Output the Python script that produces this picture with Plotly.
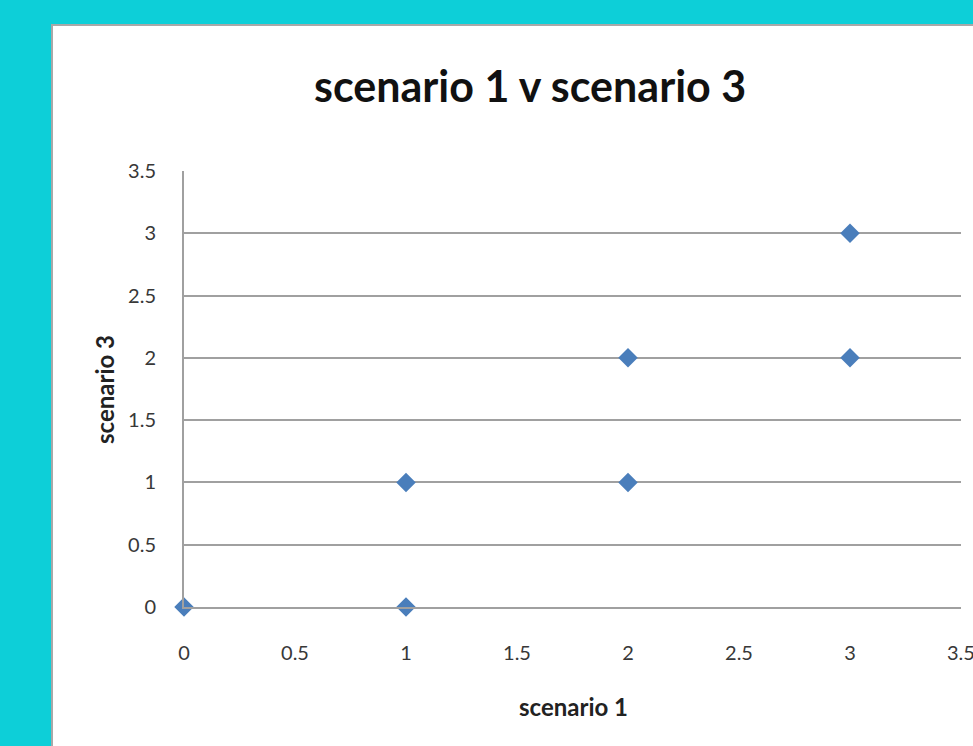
import plotly.graph_objects as go

scenario_1 = [0, 1, 1, 2, 2, 3, 3]
scenario_3 = [0, 0, 1, 1, 2, 2, 3]
x_tick_vals = [0, 0.5, 1, 1.5, 2, 2.5, 3]
x_tick_text = ["0", "0.5", "1", "1.5", "2", "2.5", "3"]
y_tick_vals = [0, 0.5, 1, 1.5, 2, 2.5, 3, 3.5]
y_tick_text = ["0", "0.5", "1", "1.5", "2", "2.5", "3", "3.5"]

W, H = 973, 746
L, R, T, B = 184, 12, 171, 139
pw, ph = W - L - R, H - T - B


def px(x):
    return (x - L) / pw


def py(y):
    return (H - B - y) / ph


fig = go.Figure()
fig.add_trace(go.Scatter(
    x=scenario_1, y=scenario_3, mode="markers",
    marker=dict(symbol="diamond", size=15, color="#4a7ebb", line=dict(width=0)),
    showlegend=False, cliponaxis=False,
))

# white chart area with grey frame on the cyan slide
fig.add_shape(type="rect", xref="paper", yref="paper", layer="below",
              x0=px(52), x1=px(990), y0=py(25), y1=py(770),
              fillcolor="white", line=dict(color="#a8a8a8", width=2))

txt = dict(xref="paper", yref="paper", showarrow=False, xanchor="center", yanchor="middle")
fig.add_annotation(text="<b>scenario 1 v scenario 3</b>", x=px(530), y=py(86),
                   font=dict(family="Lato", size=43, color="#111111"), **txt)
fig.add_annotation(text="<b>scenario 1</b>", x=px(573), y=py(706),
                   font=dict(family="Lato", size=24, color="#222222"), **txt)
fig.add_annotation(text="<b>scenario 3</b>", x=px(104), y=py(390), textangle=-90,
                   font=dict(family="Lato", size=24, color="#222222"), **txt)
# last x tick label sits on the right edge (cut off in the original)
fig.add_annotation(text="3.5", xref="x", yref="paper", x=3.5, y=py(652),
                   showarrow=False, xanchor="center", yanchor="middle",
                   font=dict(family="Lato", size=20, color="#383838"))

axis_common = dict(
    range=[0, 3.5],
    gridcolor="#a0a0a0", gridwidth=2,
    zeroline=False, showline=True, linecolor="#a0a0a0", linewidth=2,
    ticks="", tickfont=dict(family="Lato", size=20, color="#383838"),
)
fig.update_xaxes(**axis_common, tickvals=x_tick_vals, ticktext=x_tick_text,
                 showgrid=False, ticklabelstandoff=27)
fig.update_yaxes(**axis_common, tickvals=y_tick_vals, ticktext=y_tick_text,
                 showgrid=True, ticklabelstandoff=22)

fig.update_layout(
    width=W, height=H,
    margin=dict(l=L, r=R, t=T, b=B, autoexpand=False),
    paper_bgcolor="#0dcfd8", plot_bgcolor="white",
)

fig.write_html("out.html", config={"displayModeBar": False},
               post_script="document.body.style.margin='0';"
               "document.body.style.background='#0dcfd8';")
